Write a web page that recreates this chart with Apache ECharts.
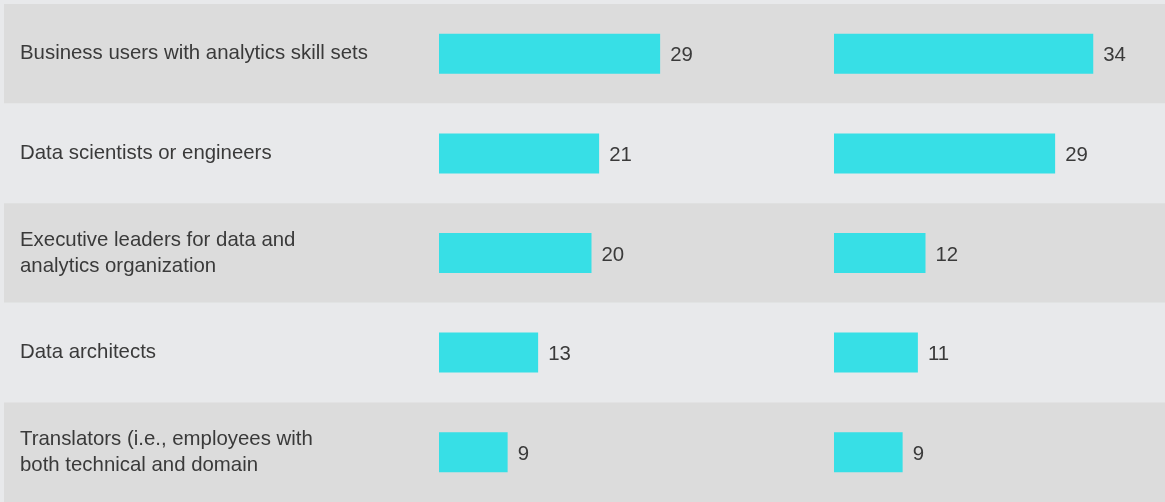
<!DOCTYPE html>
<html>
<head>
<meta charset="utf-8">
<script src="https://cdn.jsdelivr.net/npm/echarts@6/dist/echarts.min.js"></script>
<style>
  html, body { margin: 0; padding: 0; background: #e8e9eb; }
  #chart { width: 1165px; height: 502px; }
</style>
</head>
<body>
<div id="chart"></div>
<script>
var categories = [
  'Business users with analytics skill sets',
  'Data scientists or engineers',
  'Executive leaders for data and\nanalytics organization',
  'Data architects',
  'Translators (i.e., employees with\nboth technical and domain'
];
var leftValues = [29, 21, 20, 13, 9];
var rightValues = [34, 29, 12, 11, 9];

var barColor = '#37dfe6';
var textColor = '#3a3a3a';
var font = '"Liberation Sans", Arial, sans-serif';

var chart = echarts.init(document.getElementById('chart'));

function hiddenY(idx) {
  return {
    type: 'category', gridIndex: idx, data: categories, inverse: true,
    axisLine: {show: false}, axisTick: {show: false}, axisLabel: {show: false},
    splitLine: {show: false}, splitArea: {show: false}
  };
}
function hiddenX(idx) {
  return {
    type: 'value', gridIndex: idx, min: 0, max: 40,
    axisLine: {show: false}, axisTick: {show: false}, axisLabel: {show: false},
    splitLine: {show: false}
  };
}
function barSeries(idx, values) {
  return {
    type: 'bar', xAxisIndex: idx, yAxisIndex: idx, data: values,
    barWidth: 40, itemStyle: {color: barColor},
    label: {
      show: true, position: 'right', distance: 10, offset: [0, 2],
      color: textColor, fontSize: 20.4, fontFamily: font
    },
    silent: true
  };
}

option = {
  backgroundColor: '#e8e9eb',
  animation: false,
  grid: [
    // row bands + category labels
    {left: 4, top: 4, width: 1161, height: 500},
    {left: 439, top: 4, width: 305, height: 500},
    {left: 834, top: 4, width: 305, height: 500}
  ],
  xAxis: [
    {type: 'value', gridIndex: 0, show: false},
    hiddenX(1),
    hiddenX(2)
  ],
  yAxis: [
    {
      type: 'category', gridIndex: 0, data: categories, inverse: true,
      axisLine: {show: false}, axisTick: {show: false},
      axisLabel: {
        inside: true, margin: 16, align: 'left', padding: [4, 0, 0, 0],
        color: textColor, fontSize: 20.4, fontFamily: font, lineHeight: 26
      },
      splitArea: {show: true, areaStyle: {color: ['#dcdcdc', '#e8e9eb']}},
      z: 0
    },
    hiddenY(1),
    hiddenY(2)
  ],
  series: [
    barSeries(1, leftValues),
    barSeries(2, rightValues)
  ]
};
chart.setOption(option);
</script>
</body>
</html>
